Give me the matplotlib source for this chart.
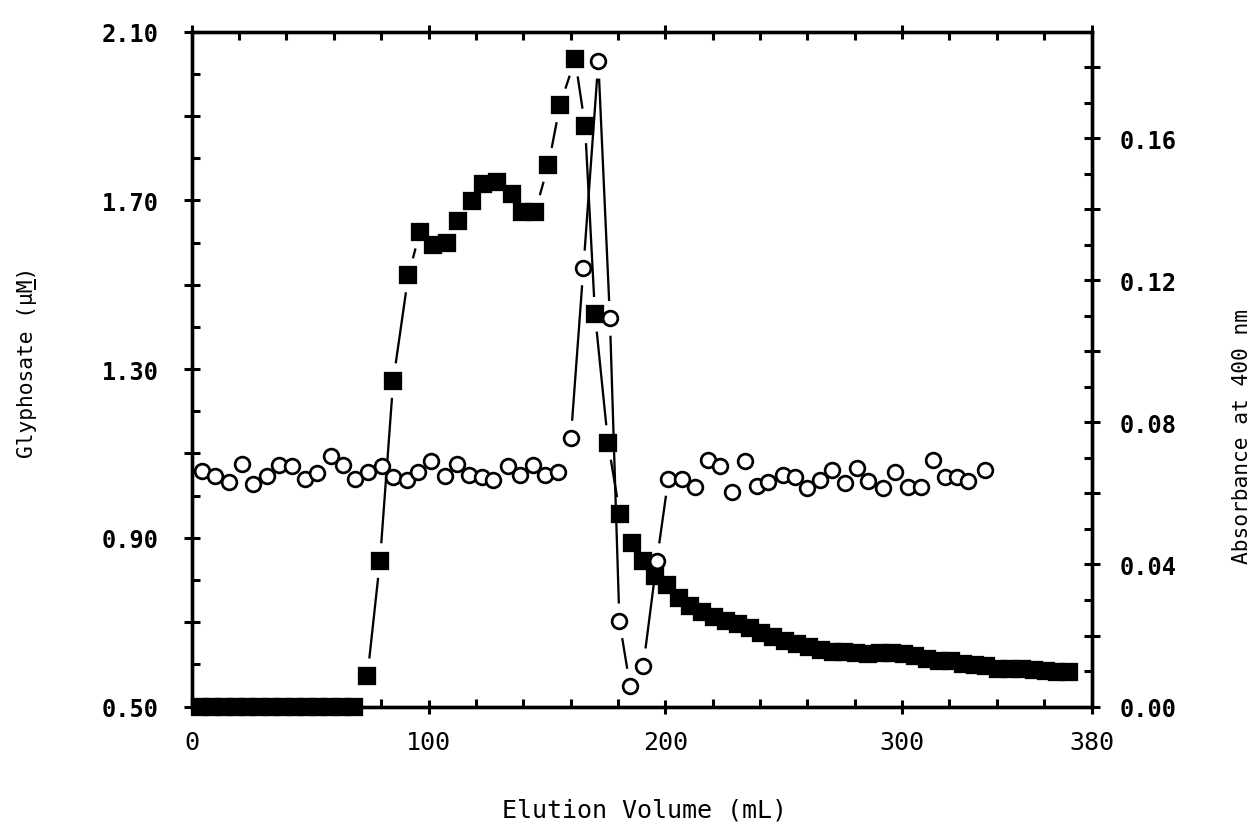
import numpy as np
import matplotlib
matplotlib.use("Agg")
import matplotlib.pyplot as plt
from matplotlib.ticker import FixedLocator, FuncFormatter
from matplotlib.lines import Line2D

# ---------------- data ----------------
gly_x = [3.5, 8.5, 13.5, 18.5, 23.5, 28.5, 33.5, 38.5, 43.5, 48.5, 53.5, 58.5, 63.5, 68.5,
         74.2, 79.5, 85.1, 91.5, 96.4, 102.0, 107.7, 112.6, 118.2, 123.1, 128.8, 135.1,
         139.4, 145.0, 150.6, 155.5, 161.9, 166.1, 170.3, 175.8, 180.8, 185.8, 190.7, 195.7,
         200.6, 205.6, 210.6, 215.6, 220.6, 225.6, 230.6, 235.6, 240.6, 245.6, 250.6, 255.6,
         260.6, 265.6, 270.6, 275.6, 280.6, 285.6, 290.6, 295.6, 300.6, 305.6, 310.6, 315.6,
         320.6, 325.6, 330.6, 335.6, 340.6, 345.6, 350.6, 355.6, 360.6, 365.6, 370.6]
gly_y = [0.50, 0.50, 0.50, 0.50, 0.50, 0.50, 0.50, 0.50, 0.50, 0.50, 0.50, 0.50, 0.50, 0.50,
         0.573, 0.846, 1.273, 1.523, 1.626, 1.594, 1.599, 1.651, 1.698, 1.738, 1.743, 1.716,
         1.672, 1.673, 1.784, 1.926, 2.035, 1.877, 1.430, 1.126, 0.956, 0.888, 0.846, 0.810,
         0.787, 0.757, 0.738, 0.724, 0.713, 0.703, 0.695, 0.686, 0.674, 0.664, 0.656, 0.648,
         0.640, 0.633, 0.630, 0.629, 0.627, 0.624, 0.628, 0.627, 0.624, 0.620, 0.613, 0.609,
         0.607, 0.601, 0.598, 0.596, 0.589, 0.589, 0.588, 0.587, 0.584, 0.583, 0.582]

abs_x = [4.2, 9.8, 15.9, 21.1, 26.0, 31.7, 37.0, 42.2, 47.8, 52.8, 58.7, 64.0, 69.0, 74.6,
         80.2, 85.1, 90.8, 95.7, 100.9, 107.0, 111.9, 117.2, 122.5, 127.4, 133.7, 138.6,
         144.0, 149.2, 154.8,
         160.1, 165.4, 171.7, 176.6, 180.6, 185.1, 190.7, 196.4,
         201.3, 206.9, 212.5, 218.2, 223.1, 228.0, 233.7, 238.6, 243.5, 249.6, 254.8, 260.0,
         265.3, 270.3, 275.9, 280.8, 285.7, 291.8, 297.0, 302.6, 307.8, 313.2, 318.1, 323.1,
         328.0, 335.0]
abs_y = [0.0662, 0.0649, 0.0631, 0.0684, 0.0627, 0.0650, 0.0679, 0.0678, 0.0640, 0.0657,
         0.0706, 0.0679, 0.0642, 0.0661, 0.0676, 0.0646, 0.0637, 0.0661, 0.0692, 0.0648,
         0.0684, 0.0651, 0.0646, 0.0638, 0.0678, 0.0653, 0.0679, 0.0651, 0.0661,
         0.0756, 0.1235, 0.1817, 0.1093, 0.0241, 0.0058, 0.0115, 0.0411,
         0.0642, 0.0642, 0.0617, 0.0695, 0.0677, 0.0605, 0.0692, 0.0622, 0.0631, 0.0651,
         0.0647, 0.0614, 0.0638, 0.0667, 0.0629, 0.0672, 0.0635, 0.0614, 0.0661, 0.0618,
         0.0618, 0.0694, 0.0647, 0.0645, 0.0634, 0.0665]
abs_link_range = (159.0, 202.0)   # circles joined by a line only across the peak

x_major = [0, 100, 200, 300, 380]
x_labels = ["0", "100", "200", "300", "380"]
x_label = "Elution Volume (mL)"
y_left_label = "Glyphosate (\u03bcM)"
y_left_underlined_char = 13        # the "M" of "uM" is underlined
y_right_label = "Absorbance at 400 nm"

MONO = "DejaVu Sans Mono"

# ---------------- figure ----------------
W, H = 1259, 828
fig = plt.figure(figsize=(W / 100, H / 100), dpi=100)
ax = fig.add_axes([0.1523, 0.1455, 0.7147, 0.8149])
ax.set_xlim(0, 380)
ax.set_ylim(0.5, 2.1)
ax2 = ax.twinx()
ax2.set_ylim(0, 0.19)

LW = 1.65          # connecting line width (pt)
SHRINK = 12.5      # gap between marker centre and line end (pt)


def gapped_lines(axis, xs, ys, keep=None):
    """Join consecutive points, leaving a gap around each marker (as in the original)."""
    pts = axis.transData.transform(np.column_stack([xs, ys]))
    s = SHRINK * fig.dpi / 72.0
    inv = axis.transData.inverted()
    for i in range(len(xs) - 1):
        if keep is not None and not keep(xs[i], xs[i + 1]):
            continue
        p1, p2 = pts[i], pts[i + 1]
        d = np.hypot(*(p2 - p1))
        if d <= 2 * s + 2:
            continue
        u = (p2 - p1) / d
        q = inv.transform(np.array([p1 + u * s, p2 - u * s]))
        axis.plot(q[:, 0], q[:, 1], color="black", lw=LW, solid_capstyle="butt",
                  zorder=2, clip_on=False)


# glyphosate: filled squares
gapped_lines(ax, gly_x, gly_y)
ax.plot(gly_x, gly_y, linestyle="none", marker="s", markersize=10.9,
        markerfacecolor="black", markeredgecolor="black", markeredgewidth=1.65,
        zorder=4, clip_on=False)

# absorbance: open circles
lo, hi = abs_link_range
gapped_lines(ax2, abs_x, abs_y, keep=lambda a, b: lo <= a <= hi and lo <= b <= hi)
ax2.plot(abs_x, abs_y, linestyle="none", marker="o", markersize=10.6,
         markerfacecolor="white", markeredgecolor="black", markeredgewidth=1.95,
         zorder=4, clip_on=False)

# ---------------- axes styling ----------------
for a in (ax, ax2):
    for sp in a.spines.values():
        sp.set_linewidth(2.4)
        sp.set_zorder(3)

ax.xaxis.set_major_locator(FixedLocator(x_major))
ax.xaxis.set_minor_locator(FixedLocator(np.arange(20, 380, 20)))
ax.xaxis.set_major_formatter(FuncFormatter(lambda v, p: x_labels[x_major.index(int(round(v)))]))

ax.yaxis.set_major_locator(FixedLocator(np.round(np.arange(0.5, 2.11, 0.2), 2)))
ax.yaxis.set_minor_locator(FixedLocator(np.round(np.arange(0.6, 2.1, 0.2), 2)))


def left_fmt(v, p):
    k = (v - 0.5) / 0.4
    return f"{v:.2f}" if abs(k - round(k)) < 1e-6 else ""


ax.yaxis.set_major_formatter(FuncFormatter(left_fmt))

ax2.yaxis.set_major_locator(FixedLocator(np.round(np.arange(0, 0.191, 0.02), 2)))
ax2.yaxis.set_minor_locator(FixedLocator(np.round(np.arange(0.01, 0.19, 0.02), 2)))


def right_fmt(v, p):
    k = v / 0.04
    return f"{v:.2f}" if abs(k - round(k)) < 1e-6 else ""


ax2.yaxis.set_major_formatter(FuncFormatter(right_fmt))

ax.tick_params(axis="x", which="major", direction="inout", length=10, width=2.2,
               top=True, bottom=True, pad=12, labelsize=18)
ax.tick_params(axis="x", which="minor", direction="in", length=5.5, width=2.2,
               top=True, bottom=True)
ax.tick_params(axis="y", which="major", direction="inout", length=12, width=2.2,
               left=True, right=False, pad=18, labelsize=17)
ax.tick_params(axis="y", which="minor", direction="in", length=6, width=2.2,
               left=True, right=False)
ax2.tick_params(axis="y", which="major", direction="inout", length=12, width=2.2,
                right=True, left=False, pad=14, labelsize=17)
ax2.tick_params(axis="y", which="minor", direction="in", length=6, width=2.2,
                right=True, left=False)

for t in ax.get_xticklabels():
    t.set_fontfamily(MONO)
for t in ax.get_yticklabels() + ax2.get_yticklabels():
    t.set_fontfamily(MONO)
    t.set_fontweight("bold")

fig.text(644 / W, 1 - 811 / H, x_label, family=MONO, fontsize=18, ha="center", va="center")
ylab = fig.text(27.5 / W, 1 - 362 / H, y_left_label, family=MONO, fontsize=15.3,
                rotation=90, ha="center", va="center")
fig.text(1242 / W, 1 - 437 / H, y_right_label, family=MONO, fontsize=15.3,
         rotation=90, ha="center", va="center")

# underline the "M" of the left label (text is rotated, so the underline is vertical)
fig.canvas.draw()
bb = ylab.get_window_extent()
step = bb.height / len(y_left_label)
y0 = bb.y0 + y_left_underlined_char * step + 1.5
y1 = y0 + step - 3
xu = bb.x1 - 2.5
fig.add_artist(Line2D([xu / W, xu / W], [y0 / H, y1 / H], color="black", lw=1.4,
                      transform=fig.transFigure))

fig.savefig("out.png", dpi=100, facecolor="white")
